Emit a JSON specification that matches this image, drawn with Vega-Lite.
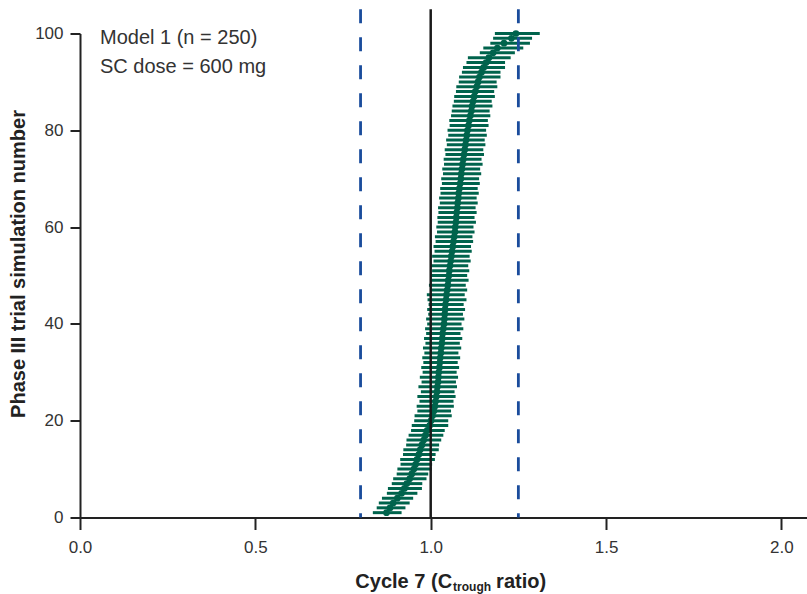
{
  "$schema": "https://vega.github.io/schema/vega-lite/v6.json",
  "width": 727,
  "height": 484,
  "autosize": {"type": "none"},
  "padding": {"left": 80, "top": 33.5, "right": 0, "bottom": 76.5},
  "background": "white",
  "config": {
    "view": {"stroke": null},
    "font": "Liberation Sans",
    "text": {"font": "Liberation Sans"}
  },
  "layer": [
    {
      "data": {
        "values": [
          {"sim": 1, "ratio": 0.874, "lo": 0.835, "hi": 0.917},
          {"sim": 2, "ratio": 0.884, "lo": 0.846, "hi": 0.928},
          {"sim": 3, "ratio": 0.893, "lo": 0.852, "hi": 0.940},
          {"sim": 4, "ratio": 0.905, "lo": 0.861, "hi": 0.950},
          {"sim": 5, "ratio": 0.917, "lo": 0.875, "hi": 0.962},
          {"sim": 6, "ratio": 0.925, "lo": 0.878, "hi": 0.975},
          {"sim": 7, "ratio": 0.932, "lo": 0.889, "hi": 0.976},
          {"sim": 8, "ratio": 0.940, "lo": 0.893, "hi": 0.988},
          {"sim": 9, "ratio": 0.946, "lo": 0.903, "hi": 0.993},
          {"sim": 10, "ratio": 0.952, "lo": 0.905, "hi": 1.003},
          {"sim": 11, "ratio": 0.957, "lo": 0.914, "hi": 1.004},
          {"sim": 12, "ratio": 0.961, "lo": 0.913, "hi": 1.012},
          {"sim": 13, "ratio": 0.966, "lo": 0.921, "hi": 1.014},
          {"sim": 14, "ratio": 0.970, "lo": 0.922, "hi": 1.023},
          {"sim": 15, "ratio": 0.975, "lo": 0.930, "hi": 1.024},
          {"sim": 16, "ratio": 0.980, "lo": 0.931, "hi": 1.030},
          {"sim": 17, "ratio": 0.985, "lo": 0.937, "hi": 1.036},
          {"sim": 18, "ratio": 0.990, "lo": 0.944, "hi": 1.040},
          {"sim": 19, "ratio": 0.997, "lo": 0.946, "hi": 1.050},
          {"sim": 20, "ratio": 1.001, "lo": 0.953, "hi": 1.050},
          {"sim": 21, "ratio": 1.005, "lo": 0.954, "hi": 1.060},
          {"sim": 22, "ratio": 1.009, "lo": 0.962, "hi": 1.058},
          {"sim": 23, "ratio": 1.012, "lo": 0.960, "hi": 1.066},
          {"sim": 24, "ratio": 1.014, "lo": 0.968, "hi": 1.065},
          {"sim": 25, "ratio": 1.016, "lo": 0.962, "hi": 1.071},
          {"sim": 26, "ratio": 1.018, "lo": 0.972, "hi": 1.068},
          {"sim": 27, "ratio": 1.019, "lo": 0.965, "hi": 1.075},
          {"sim": 28, "ratio": 1.021, "lo": 0.974, "hi": 1.072},
          {"sim": 29, "ratio": 1.022, "lo": 0.969, "hi": 1.078},
          {"sim": 30, "ratio": 1.023, "lo": 0.977, "hi": 1.074},
          {"sim": 31, "ratio": 1.025, "lo": 0.973, "hi": 1.081},
          {"sim": 32, "ratio": 1.026, "lo": 0.979, "hi": 1.077},
          {"sim": 33, "ratio": 1.027, "lo": 0.976, "hi": 1.084},
          {"sim": 34, "ratio": 1.029, "lo": 0.982, "hi": 1.079},
          {"sim": 35, "ratio": 1.030, "lo": 0.978, "hi": 1.087},
          {"sim": 36, "ratio": 1.032, "lo": 0.985, "hi": 1.083},
          {"sim": 37, "ratio": 1.033, "lo": 0.981, "hi": 1.090},
          {"sim": 38, "ratio": 1.034, "lo": 0.987, "hi": 1.085},
          {"sim": 39, "ratio": 1.036, "lo": 0.984, "hi": 1.093},
          {"sim": 40, "ratio": 1.038, "lo": 0.990, "hi": 1.088},
          {"sim": 41, "ratio": 1.039, "lo": 0.987, "hi": 1.096},
          {"sim": 42, "ratio": 1.040, "lo": 0.993, "hi": 1.092},
          {"sim": 43, "ratio": 1.041, "lo": 0.990, "hi": 1.098},
          {"sim": 44, "ratio": 1.042, "lo": 0.994, "hi": 1.094},
          {"sim": 45, "ratio": 1.044, "lo": 0.991, "hi": 1.102},
          {"sim": 46, "ratio": 1.045, "lo": 0.989, "hi": 1.097},
          {"sim": 47, "ratio": 1.047, "lo": 0.998, "hi": 1.104},
          {"sim": 48, "ratio": 1.049, "lo": 0.995, "hi": 1.100},
          {"sim": 49, "ratio": 1.050, "lo": 1.001, "hi": 1.108},
          {"sim": 50, "ratio": 1.052, "lo": 0.998, "hi": 1.104},
          {"sim": 51, "ratio": 1.053, "lo": 1.004, "hi": 1.110},
          {"sim": 52, "ratio": 1.055, "lo": 1.001, "hi": 1.107},
          {"sim": 53, "ratio": 1.057, "lo": 1.008, "hi": 1.114},
          {"sim": 54, "ratio": 1.059, "lo": 1.004, "hi": 1.111},
          {"sim": 55, "ratio": 1.061, "lo": 1.011, "hi": 1.117},
          {"sim": 56, "ratio": 1.063, "lo": 1.008, "hi": 1.115},
          {"sim": 57, "ratio": 1.065, "lo": 1.014, "hi": 1.121},
          {"sim": 58, "ratio": 1.067, "lo": 1.012, "hi": 1.119},
          {"sim": 59, "ratio": 1.069, "lo": 1.018, "hi": 1.125},
          {"sim": 60, "ratio": 1.070, "lo": 1.016, "hi": 1.122},
          {"sim": 61, "ratio": 1.072, "lo": 1.020, "hi": 1.129},
          {"sim": 62, "ratio": 1.073, "lo": 1.019, "hi": 1.125},
          {"sim": 63, "ratio": 1.074, "lo": 1.022, "hi": 1.131},
          {"sim": 64, "ratio": 1.076, "lo": 1.021, "hi": 1.128},
          {"sim": 65, "ratio": 1.077, "lo": 1.026, "hi": 1.134},
          {"sim": 66, "ratio": 1.079, "lo": 1.024, "hi": 1.131},
          {"sim": 67, "ratio": 1.080, "lo": 1.028, "hi": 1.137},
          {"sim": 68, "ratio": 1.082, "lo": 1.027, "hi": 1.134},
          {"sim": 69, "ratio": 1.084, "lo": 1.032, "hi": 1.140},
          {"sim": 70, "ratio": 1.086, "lo": 1.030, "hi": 1.138},
          {"sim": 71, "ratio": 1.087, "lo": 1.035, "hi": 1.144},
          {"sim": 72, "ratio": 1.089, "lo": 1.033, "hi": 1.141},
          {"sim": 73, "ratio": 1.091, "lo": 1.038, "hi": 1.148},
          {"sim": 74, "ratio": 1.093, "lo": 1.037, "hi": 1.145},
          {"sim": 75, "ratio": 1.095, "lo": 1.042, "hi": 1.152},
          {"sim": 76, "ratio": 1.097, "lo": 1.040, "hi": 1.150},
          {"sim": 77, "ratio": 1.099, "lo": 1.046, "hi": 1.156},
          {"sim": 78, "ratio": 1.101, "lo": 1.044, "hi": 1.154},
          {"sim": 79, "ratio": 1.103, "lo": 1.050, "hi": 1.160},
          {"sim": 80, "ratio": 1.105, "lo": 1.048, "hi": 1.158},
          {"sim": 81, "ratio": 1.108, "lo": 1.054, "hi": 1.165},
          {"sim": 82, "ratio": 1.110, "lo": 1.053, "hi": 1.163},
          {"sim": 83, "ratio": 1.113, "lo": 1.058, "hi": 1.170},
          {"sim": 84, "ratio": 1.116, "lo": 1.060, "hi": 1.168},
          {"sim": 85, "ratio": 1.118, "lo": 1.062, "hi": 1.176},
          {"sim": 86, "ratio": 1.121, "lo": 1.066, "hi": 1.174},
          {"sim": 87, "ratio": 1.124, "lo": 1.067, "hi": 1.183},
          {"sim": 88, "ratio": 1.127, "lo": 1.072, "hi": 1.181},
          {"sim": 89, "ratio": 1.131, "lo": 1.073, "hi": 1.190},
          {"sim": 90, "ratio": 1.135, "lo": 1.080, "hi": 1.188},
          {"sim": 91, "ratio": 1.139, "lo": 1.081, "hi": 1.199},
          {"sim": 92, "ratio": 1.145, "lo": 1.089, "hi": 1.199},
          {"sim": 93, "ratio": 1.151, "lo": 1.092, "hi": 1.212},
          {"sim": 94, "ratio": 1.158, "lo": 1.102, "hi": 1.212},
          {"sim": 95, "ratio": 1.166, "lo": 1.106, "hi": 1.228},
          {"sim": 96, "ratio": 1.178, "lo": 1.140, "hi": 1.240},
          {"sim": 97, "ratio": 1.190, "lo": 1.150, "hi": 1.264},
          {"sim": 98, "ratio": 1.209, "lo": 1.170, "hi": 1.283},
          {"sim": 99, "ratio": 1.230, "lo": 1.178, "hi": 1.289},
          {"sim": 100, "ratio": 1.243, "lo": 1.183, "hi": 1.311}
        ]
      },
      "layer": [
        {
          "mark": {"type": "rule", "color": "#00634c", "strokeWidth": 3},
          "encoding": {
            "y": {
              "field": "sim",
              "type": "quantitative",
              "scale": {"domain": [0, 100], "nice": false, "zero": true},
              "axis": {
                "values": [0, 20, 40, 60, 80, 100],
                "title": "Phase III trial simulation number",
                "titleFontSize": 20,
                "titleFontWeight": "bold",
                "titleColor": "#222222",
                "titleFont": "Liberation Sans",
                "titleX": -52,
                "titleY": 230,
                "grid": false,
                "tickSize": 10,
                "tickWidth": 2,
                "tickColor": "#222222",
                "domainColor": "#222222",
                "domainWidth": 2,
                "labelFontSize": 17,
                "labelColor": "#333333",
                "labelFont": "Liberation Sans",
                "labelPadding": 7,
                "labelFlush": false
              }
            },
            "x": {
              "field": "lo",
              "type": "quantitative",
              "scale": {"domain": [0, 2.073], "nice": false, "zero": false},
              "axis": {
                "values": [0, 0.5, 1, 1.5, 2],
                "format": ".1f",
                "title": null,
                "grid": false,
                "tickSize": 12,
                "tickWidth": 2,
                "tickColor": "#222222",
                "domainColor": "#222222",
                "domainWidth": 2,
                "labelFontSize": 17,
                "labelColor": "#333333",
                "labelFont": "Liberation Sans",
                "labelPadding": 10,
                "labelFlush": false
              }
            },
            "x2": {"field": "hi"}
          }
        },
        {
          "mark": {"type": "circle", "color": "#00634c", "size": 45, "opacity": 1},
          "encoding": {
            "x": {"field": "ratio", "type": "quantitative"},
            "y": {"field": "sim", "type": "quantitative"}
          }
        }
      ]
    },
    {
      "data": {"values": [{"ref": 0.8}, {"ref": 1.25}]},
      "mark": {"type": "rule", "color": "#1a4c9c", "strokeWidth": 2.8, "strokeDash": [14, 14]},
      "encoding": {"x": {"field": "ref", "type": "quantitative"}, "y": {"datum": 105}, "y2": {"datum": 0}}
    },
    {
      "data": {"values": [{"ref": 1.0}]},
      "mark": {"type": "rule", "color": "#1a1a1a", "strokeWidth": 2.5},
      "encoding": {"x": {"field": "ref", "type": "quantitative"}, "y": {"datum": 105}, "y2": {"datum": 0}}
    },
    {
      "data": {"values": [{"label": "Model 1 (n = 250)", "ly": 97.8}, {"label": "SC dose = 600 mg", "ly": 91.8}]},
      "mark": {"type": "text", "align": "left", "baseline": "alphabetic", "fontSize": 20, "fontWeight": "normal", "color": "#333333"},
      "encoding": {"text": {"field": "label"}, "x": {"datum": 0.057}, "y": {"field": "ly", "type": "quantitative"}}
    },
    {
      "data": {"values": [{}]},
      "layer": [
        {
          "mark": {"type": "text", "text": "Cycle 7 (C", "align": "right", "baseline": "alphabetic", "fontSize": 20, "fontWeight": "bold", "color": "#222222"},
          "encoding": {"x": {"datum": 1.061}, "y": {"datum": -14.6}}
        },
        {
          "mark": {"type": "text", "text": "trough", "align": "left", "baseline": "alphabetic", "fontSize": 12, "fontWeight": "bold", "color": "#222222", "dx": 1, "dy": 3},
          "encoding": {"x": {"datum": 1.061}, "y": {"datum": -14.6}}
        },
        {
          "mark": {"type": "text", "text": "ratio)", "align": "left", "baseline": "alphabetic", "fontSize": 20, "fontWeight": "bold", "color": "#222222", "dx": 44},
          "encoding": {"x": {"datum": 1.061}, "y": {"datum": -14.6}}
        }
      ]
    }
  ]
}
